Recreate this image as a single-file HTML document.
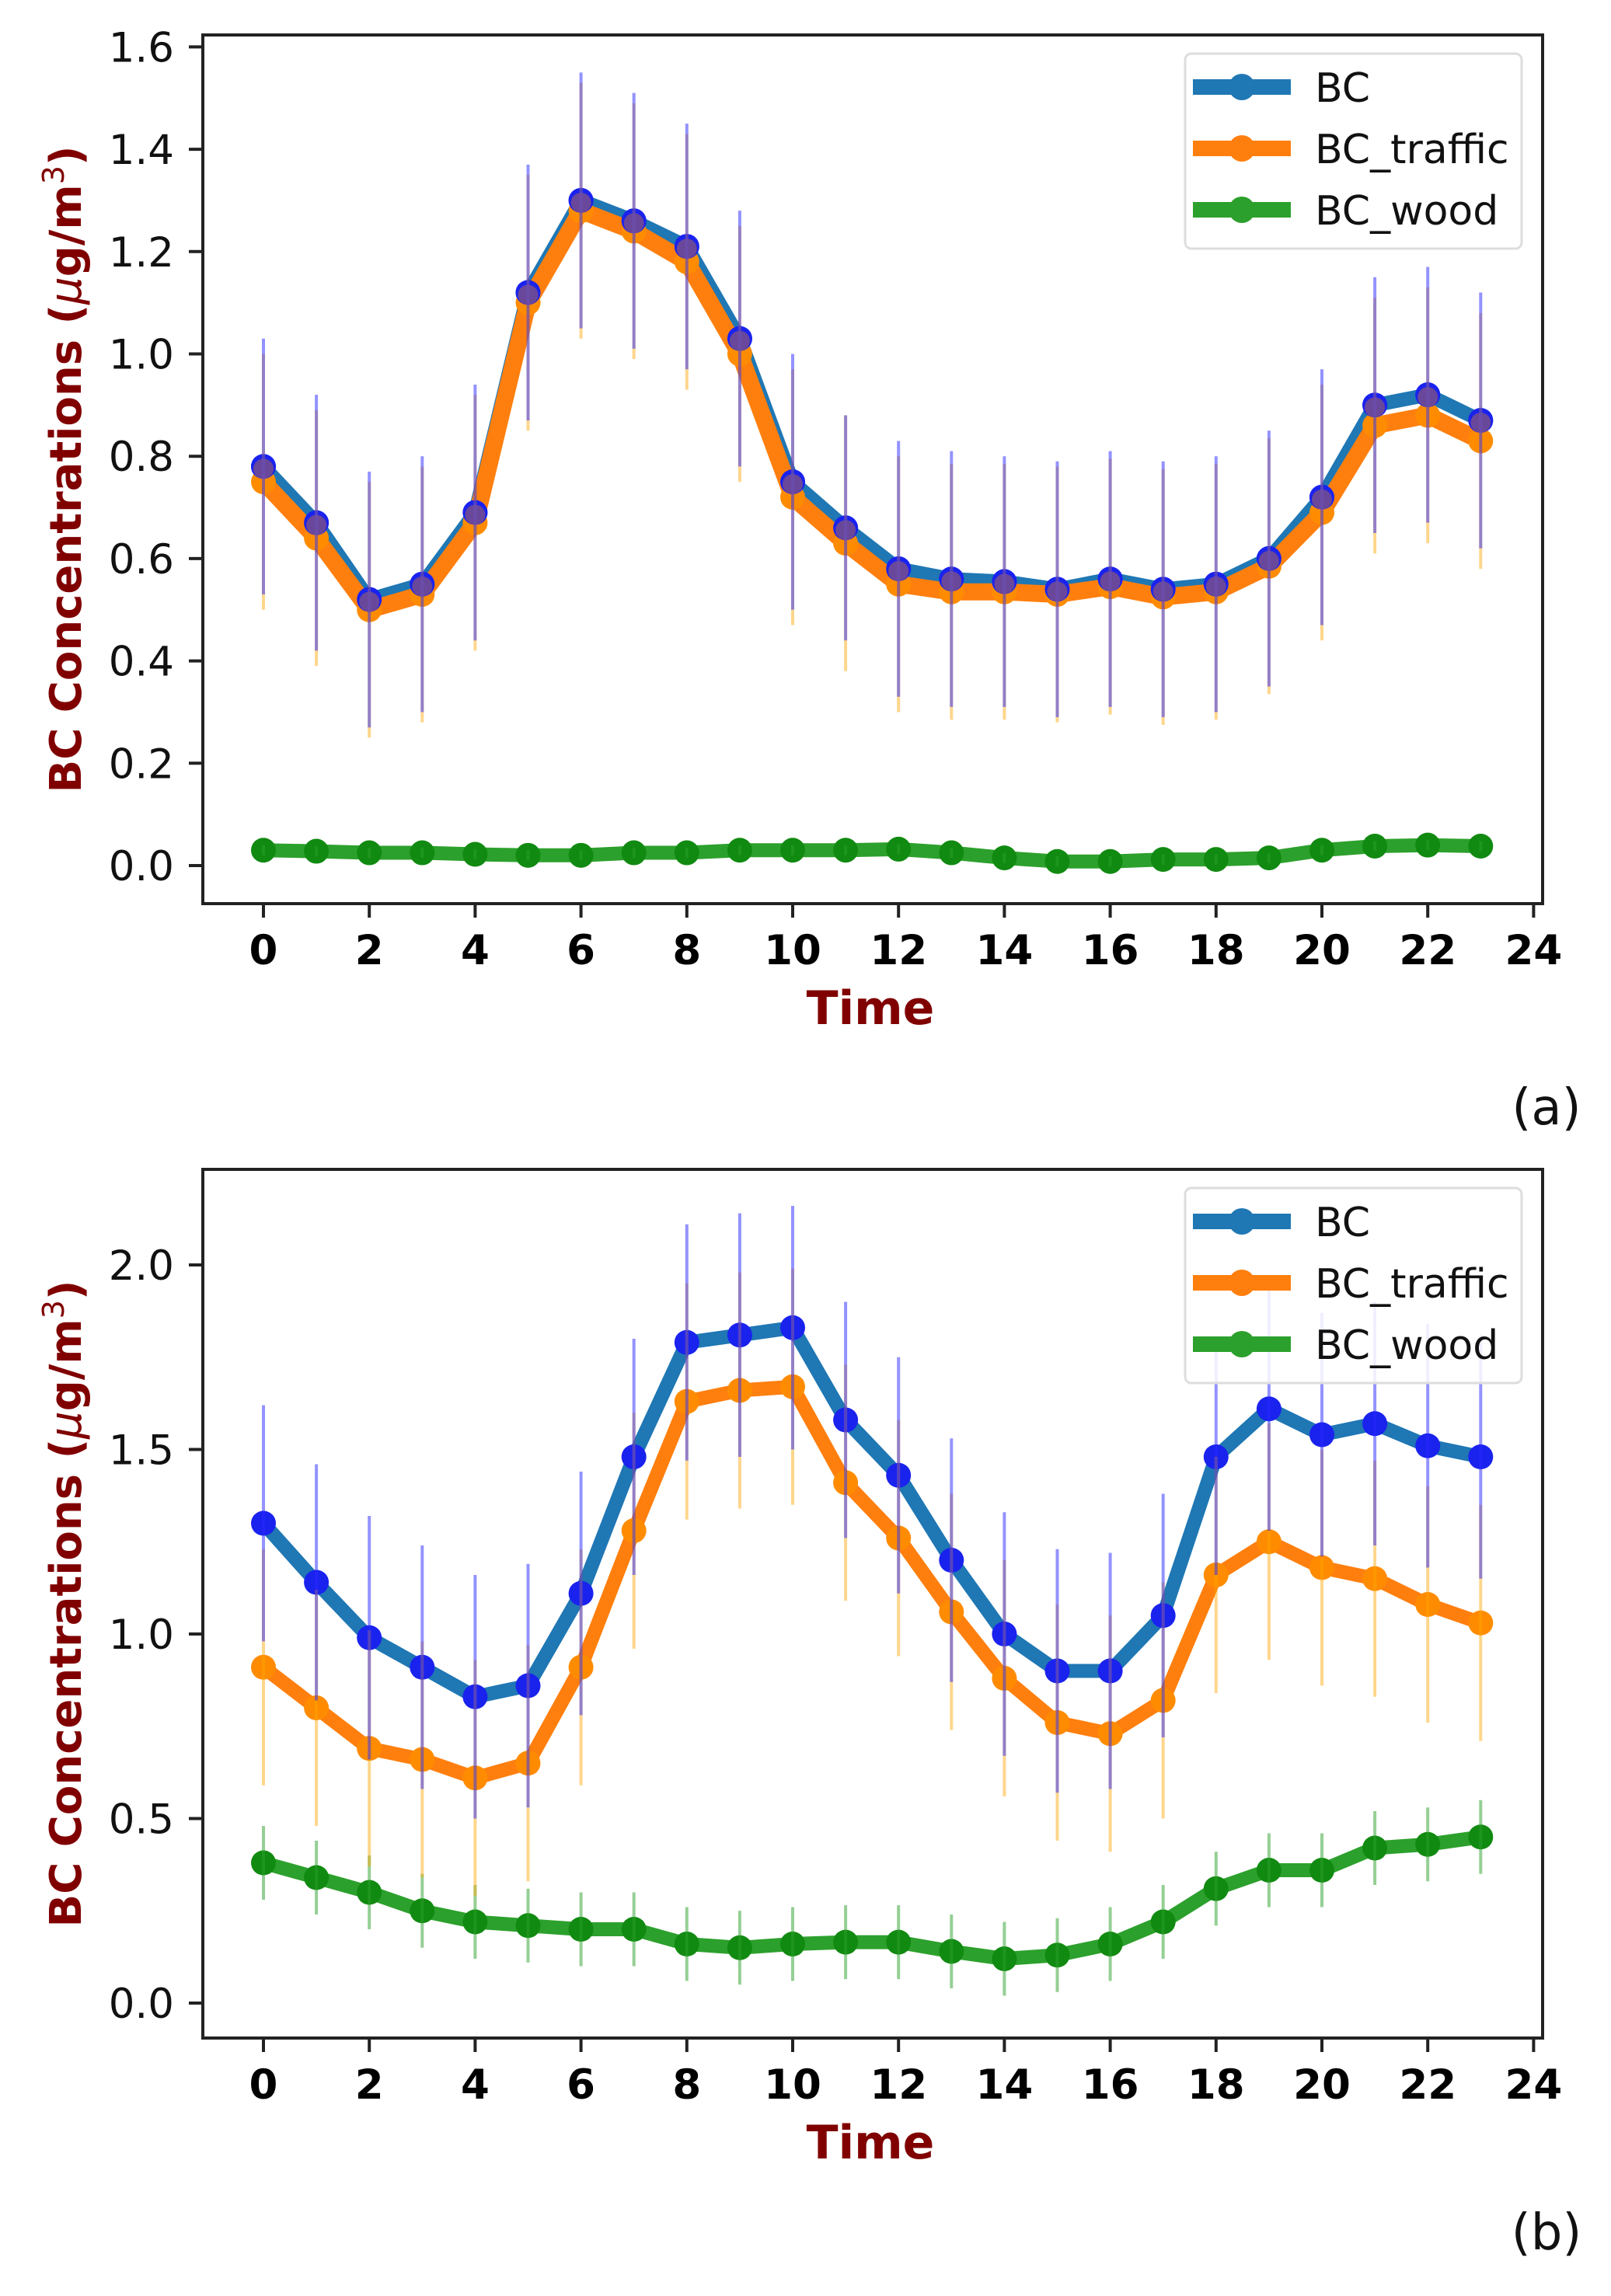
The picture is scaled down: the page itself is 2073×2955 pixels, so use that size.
<!DOCTYPE html>
<html><head><meta charset="utf-8"><style>
html,body{margin:0;padding:0;background:#fff;}
svg{display:block;}
</style></head><body>
<svg id="fig" xmlns="http://www.w3.org/2000/svg" width="2073" height="2955" viewBox="0 0 2073 2955">
<rect width="2073" height="2955" fill="#fff"/>
</svg>
<script>
const hours = [0,1,2,3,4,5,6,7,8,9,10,11,12,13,14,15,16,17,18,19,20,21,22,23];
const xTicks = [0,2,4,6,8,10,12,14,16,18,20,22,24];
// Panel (a)
const aBC = [0.78,0.67,0.52,0.55,0.69,1.12,1.30,1.26,1.21,1.03,0.75,0.66,0.58,0.56,0.555,0.54,0.56,0.54,0.55,0.60,0.72,0.90,0.92,0.87];
const aBCerr = [0.25,0.25,0.25,0.25,0.25,0.25,0.25,0.25,0.24,0.25,0.25,0.22,0.25,0.25,0.245,0.25,0.25,0.25,0.25,0.25,0.25,0.25,0.25,0.25];
const aTraffic = [0.75,0.64,0.50,0.53,0.67,1.10,1.28,1.24,1.18,1.00,0.72,0.63,0.55,0.535,0.535,0.53,0.545,0.525,0.535,0.585,0.69,0.86,0.88,0.83];
const aTrafficErr = [0.25,0.25,0.25,0.25,0.25,0.25,0.25,0.25,0.25,0.25,0.25,0.25,0.25,0.25,0.25,0.25,0.25,0.25,0.25,0.25,0.25,0.25,0.25,0.25];
const aWood = [0.03,0.028,0.025,0.025,0.022,0.02,0.02,0.025,0.025,0.03,0.03,0.03,0.032,0.025,0.015,0.008,0.008,0.012,0.012,0.015,0.03,0.038,0.04,0.038];
const aWoodErr = [0.01,0.01,0.01,0.01,0.01,0.01,0.01,0.01,0.01,0.01,0.01,0.01,0.01,0.01,0.01,0.01,0.01,0.01,0.01,0.01,0.01,0.01,0.01,0.01];
const aYTicks = [0.0,0.2,0.4,0.6,0.8,1.0,1.2,1.4,1.6];
// Panel (b)
const bBC = [1.30,1.14,0.99,0.91,0.83,0.86,1.11,1.48,1.79,1.81,1.83,1.58,1.43,1.20,1.00,0.90,0.90,1.05,1.48,1.61,1.54,1.57,1.51,1.48];
const bBCerr = [0.32,0.32,0.33,0.33,0.33,0.33,0.33,0.32,0.32,0.33,0.33,0.32,0.32,0.33,0.33,0.33,0.32,0.33,0.32,0.33,0.33,0.33,0.33,0.33];
const bTraffic = [0.91,0.80,0.69,0.66,0.61,0.65,0.91,1.28,1.63,1.66,1.67,1.41,1.26,1.06,0.88,0.76,0.73,0.82,1.16,1.25,1.18,1.15,1.08,1.03];
const bTrafficErr = [0.32,0.32,0.32,0.32,0.32,0.32,0.32,0.32,0.32,0.32,0.32,0.32,0.32,0.32,0.32,0.32,0.32,0.32,0.32,0.32,0.32,0.32,0.32,0.32];
const bWood = [0.38,0.34,0.30,0.25,0.22,0.21,0.20,0.20,0.16,0.15,0.16,0.165,0.165,0.14,0.12,0.13,0.16,0.22,0.31,0.36,0.36,0.42,0.43,0.45];
const bWoodErr = [0.10,0.10,0.10,0.10,0.10,0.10,0.10,0.10,0.10,0.10,0.10,0.10,0.10,0.10,0.10,0.10,0.10,0.10,0.10,0.10,0.10,0.10,0.10,0.10];
const bYTicks = [0.0,0.5,1.0,1.5,2.0];

const NS = "http://www.w3.org/2000/svg";
const svg = document.getElementById('fig');
function mk(tag, attrs, parent){
  const e = document.createElementNS(NS, tag);
  for (const k in attrs) e.setAttribute(k, attrs[k]);
  (parent||svg).appendChild(e);
  return e;
}

function panel(cfg){
  const g = mk('g', {});
  
  
  const L = 261, R = 1985, T = cfg.top, B = cfg.bottom;
  const X = v => 339 + v * 68.1;
  const Y = v => cfg.y0 - v * cfg.ppu;
  const series = {
    wood: {v: cfg.wood, e: cfg.woodErr, line:'#2ca02c', mk:'#118a11', eb:'rgba(44,160,44,0.5)', n:'wood', w:18},
    traffic: {v: cfg.traffic, e: cfg.trafficErr, line:'#ff7f0e', mk:'#ff8c00', eb:'rgba(255,165,0,0.45)', n:'traffic', w:cfg.overlap?22:18},
    bc: {v: cfg.bc, e: cfg.bcErr, line:'#1f77b4', mk:'#1a22ee', eb:'rgba(40,40,255,0.5)', n:'bc', w:18}
  };
  const order = cfg.overlap ? ['wood','bc','traffic'] : ['wood','traffic','bc'];
  const groups = {};
  order.forEach(k => {
    const s = series[k];
    const sg = mk('g', {}, g);
    groups[k] = sg;
    
    
    let pts = hours.map((h,i) => X(h).toFixed(1) + ',' + Y(s.v[i]).toFixed(1)).join(' ');
    const pl = mk('polyline', {points: pts, fill:'none', stroke:s.line, 'stroke-width': s.w, 'stroke-linejoin':'round'}, sg);
    
    
    hours.forEach((h,i) => {
      const c = mk('circle', {cx: X(h), cy: Y(s.v[i]), r: 16, fill: s.mk}, sg);
      
      
    });
  });
  if (cfg.overlap) {
    const s = series.bc;
    const og = mk('g', {}, g);
    
    
    hours.forEach((h,i) => {
      const c = mk('circle', {cx: X(h), cy: Y(s.v[i]), r: 16, fill: '#1a22ee'}, og);
      
      
      const c2 = mk('circle', {cx: X(h), cy: Y(s.v[i]) + 3, r: 13, fill: 'rgba(255,140,0,0.35)'}, og);
      
      
    });
  }
  ['wood','traffic','bc'].forEach(k => {
    const s = series[k];
    const eg = mk('g', {}, g);
    
    
    hours.forEach((h,i) => {
      const l = mk('line', {x1: X(h), x2: X(h), y1: Y(s.v[i]-s.e[i]), y2: Y(s.v[i]+s.e[i]), stroke: s.eb, 'stroke-width': 4}, eg);
      
      
    });
  });
  const fr = mk('rect', {x:L, y:T, width:R-L, height:B-T, fill:'none', stroke:'#222', 'stroke-width':4}, g);
  
  
  cfg.yTicks.forEach(t => {
    const y = Y(t);
    mk('line', {x1:L-18, x2:L, y1:y, y2:y, stroke:'#222', 'stroke-width':4}, g);
    const tx = mk('text', {x:224, y:y+19, 'text-anchor':'end', 'font-family':'DejaVu Sans, Liberation Sans, sans-serif', 'font-size':53, fill:'#111'}, g);
    tx.textContent = t.toFixed(1);
    
    
  });
  xTicks.forEach(t => {
    const x = X(t);
    mk('line', {x1:x, x2:x, y1:B, y2:B+18, stroke:'#222', 'stroke-width':4}, g);
    const tx = mk('text', {x:x, y:B+78, 'text-anchor':'middle', 'font-family':'DejaVu Sans, Liberation Sans, sans-serif', 'font-weight':'bold', 'font-size':53, fill:'#000'}, g);
    tx.textContent = t;
    
    
  });
  const xl = mk('text', {x:1120, y:B+155, 'text-anchor':'middle', 'font-family':'DejaVu Sans, Liberation Sans, sans-serif', 'font-weight':'bold', 'font-size':60, fill:'#800000'}, g);
  xl.textContent = 'Time';
  
  
  const cy = (T+B)/2;
  const yl = mk('text', {x:0, y:0, transform:'translate(104,'+cy+') rotate(-90)', 'text-anchor':'middle', 'font-family':'DejaVu Sans, Liberation Sans, sans-serif', 'font-weight':'bold', 'font-size':56, fill:'#800000'}, g);
  yl.innerHTML = 'BC Concentrations (<tspan font-style="italic" font-weight="normal">μ</tspan>g/m<tspan font-size="38" dy="-22" font-weight="normal">3</tspan><tspan dy="22">)</tspan>';
  
  
  const lg = mk('g', {}, g);
  
  
  const lt = cfg.top + 24;
  mk('rect', {x:1525, y:lt, width:433, height:251, rx:8, fill:'#fff', 'fill-opacity':0.85, stroke:'#ddd', 'stroke-width':3}, lg);
  [['BC','#1f77b4'],['BC_traffic','#ff7f0e'],['BC_wood','#2ca02c']].forEach((e,i) => {
    const y = lt + 43 + i*79;
    const eg = mk('g', {}, lg);
    
    
    mk('line', {x1:1535, x2:1661, y1:y, y2:y, stroke:e[1], 'stroke-width':20}, eg);
    mk('circle', {cx:1598, cy:y, r:17, fill:e[1]}, eg);
    const t = mk('text', {x:1692, y:y+19, 'font-family':'DejaVu Sans, Liberation Sans, sans-serif', 'font-size':52, fill:'#111'}, eg);
    t.textContent = e[0];
  });
  const pl = mk('text', {x:1990, y:cfg.labelY, 'text-anchor':'middle', 'font-family':'DejaVu Sans, Liberation Sans, sans-serif', 'font-size':64, fill:'#111'});
  pl.textContent = cfg.label;
  
  
}

panel({name:'panel-a', top:45, bottom:1163, y0:1114, ppu:658.5, bc:aBC, bcErr:aBCerr, traffic:aTraffic, trafficErr:aTrafficErr, wood:aWood, woodErr:aWoodErr, yTicks:aYTicks, overlap:true, label:'(a)', labelY:1447});
panel({name:'panel-b', top:1505, bottom:2623, y0:2578, ppu:475, bc:bBC, bcErr:bBCerr, traffic:bTraffic, trafficErr:bTrafficErr, wood:bWood, woodErr:bWoodErr, yTicks:bYTicks, overlap:false, label:'(b)', labelY:2895});
</script>
</body></html>
